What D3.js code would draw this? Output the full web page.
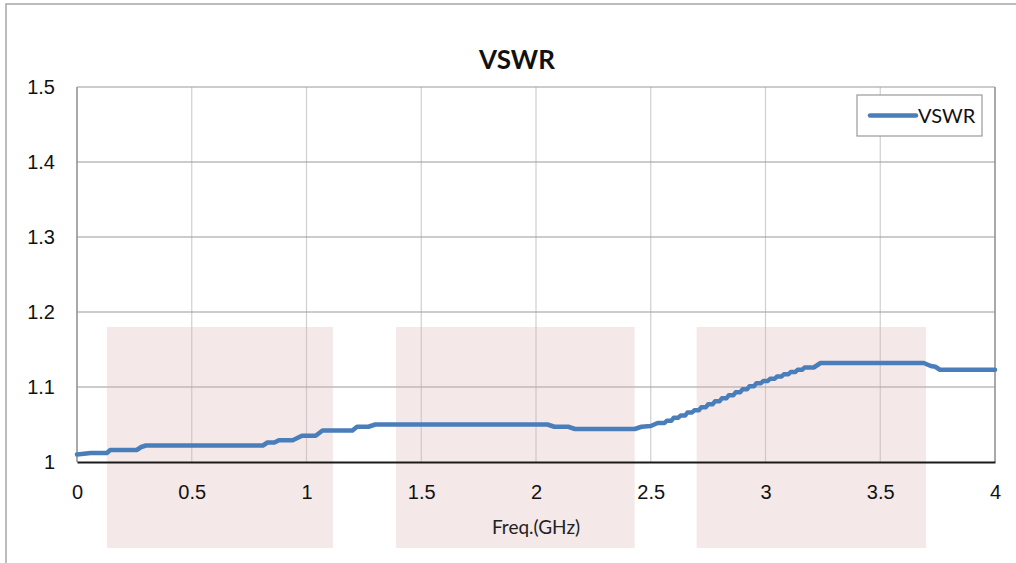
<!DOCTYPE html>
<html>
<head>
<meta charset="utf-8">
<script src="https://cdn.jsdelivr.net/npm/d3@7"></script>
<style>
  html, body { margin: 0; padding: 0; background: #fff; }
  svg { display: block; font-family: Lato, "Open Sans", "Liberation Sans", sans-serif; }
</style>
</head>
<body>
<svg id="chart" width="1016" height="563"></svg>
<script>
// ---- data ----
const chartTitle = "VSWR";
const seriesName = "VSWR";
const xAxisTitle = "Freq.(GHz)";
const xTicks = [0, 0.5, 1, 1.5, 2, 2.5, 3, 3.5, 4];
const yTicks = [1, 1.1, 1.2, 1.3, 1.4, 1.5];
const freq = [0.00, 0.03, 0.06, 0.13, 0.145, 0.26, 0.28, 0.30, 0.81, 0.83, 0.86, 0.88, 0.94, 0.98, 1.04, 1.07, 1.20, 1.22, 1.27, 1.30,
  2.05, 2.08, 2.14, 2.17, 2.43, 2.46, 2.50, 2.53, 2.56, 2.57, 2.59, 2.60, 2.62, 2.63, 2.65, 2.66, 2.68, 2.69, 2.71, 2.72, 2.74,
  2.75, 2.77, 2.78, 2.80, 2.81, 2.83, 2.84, 2.86, 2.87, 2.89, 2.90, 2.92, 2.93, 2.95, 2.96, 2.98, 2.99, 3.01, 3.02, 3.04,
  3.05, 3.07, 3.08, 3.10, 3.11, 3.13, 3.14, 3.16, 3.17, 3.21, 3.24, 3.69, 3.72, 3.74, 3.76, 4.00];
const vswr = [1.010, 1.011, 1.012, 1.012, 1.016, 1.016, 1.020, 1.022, 1.022, 1.026, 1.026, 1.029, 1.029, 1.035, 1.035, 1.042, 1.042, 1.047, 1.047, 1.050,
  1.050, 1.047, 1.047, 1.044, 1.044, 1.047, 1.048, 1.052, 1.052, 1.055, 1.055, 1.059, 1.059, 1.062, 1.062, 1.066, 1.066, 1.069, 1.069, 1.073, 1.073,
  1.077, 1.077, 1.081, 1.081, 1.085, 1.085, 1.089, 1.089, 1.093, 1.093, 1.097, 1.097, 1.101, 1.101, 1.105, 1.105, 1.108, 1.108, 1.111, 1.111,
  1.114, 1.114, 1.117, 1.117, 1.120, 1.120, 1.123, 1.123, 1.126, 1.126, 1.132, 1.132, 1.128, 1.127, 1.123, 1.123];
// shaded frequency bands [start, end] in GHz
const bandStart = [0.13, 1.39, 2.70];
const bandEnd = [1.115, 2.43, 3.70];

(function () {
// ---- layout ----
const svg = d3.select("#chart");
const pL = 77, pR = 995, pT = 87, pB = 462;
const x = d3.scaleLinear().domain([0, 4]).range([pL, pR]);
const y = d3.scaleLinear().domain([1, 1.5]).range([pB, pT]);

// outer frame
svg.append("rect").attr("x", 6).attr("y", 4).attr("width", 1100).attr("height", 700)
  .attr("fill", "none").attr("stroke", "#a6a6a6").attr("stroke-width", 1.5);

// title
svg.append("text").attr("x", 517).attr("y", 69).attr("text-anchor", "middle")
  .attr("font-size", 26).attr("font-weight", "bold").attr("fill", "#111").text(chartTitle);

// vertical grid
svg.append("g").selectAll("line").data(xTicks.filter(d => d > 0 && d < 4)).join("line")
  .attr("x1", d => x(d)).attr("x2", d => x(d)).attr("y1", pT).attr("y2", pB)
  .attr("stroke", "#cfcfcf").attr("stroke-width", 1.2);
// horizontal grid
svg.append("g").selectAll("line").data(yTicks.filter(d => d > 1)).join("line")
  .attr("x1", pL).attr("x2", pR).attr("y1", d => y(d)).attr("y2", d => y(d))
  .attr("stroke", "#9a9a9a").attr("stroke-width", 1.2);
// plot border (left/right)
svg.append("line").attr("x1", pL).attr("x2", pL).attr("y1", pT).attr("y2", pB).attr("stroke", "#8c8c8c").attr("stroke-width", 1.5);
svg.append("line").attr("x1", pR).attr("x2", pR).attr("y1", pT).attr("y2", pB).attr("stroke", "#8c8c8c").attr("stroke-width", 1.5);

// shaded bands
svg.append("g").selectAll("rect").data(bandStart.map((s, i) => [s, bandEnd[i]])).join("rect")
  .attr("x", d => x(d[0])).attr("width", d => x(d[1]) - x(d[0]))
  .attr("y", y(1.18)).attr("height", 548 - y(1.18))
  .attr("fill", "rgb(220,178,178)").attr("opacity", 0.3);

// x axis
const xAxis = d3.axisBottom(x).tickValues(xTicks).tickSize(0).tickPadding(23).tickFormat(d3.format("~g"));
const gx = svg.append("g").attr("transform", `translate(0,${pB})`).call(xAxis);
gx.select(".domain").attr("stroke", "#1a1a1a").attr("stroke-width", 2);
gx.selectAll("text").attr("font-size", 20).attr("fill", "#111").attr("font-family", "inherit");

// y axis
const yAxis = d3.axisLeft(y).tickValues(yTicks).tickSize(0).tickPadding(22).tickFormat(d3.format("~g"));
const gy = svg.append("g").attr("transform", `translate(${pL},0)`).call(yAxis);
gy.select(".domain").remove();
gy.selectAll("text").attr("font-size", 20).attr("fill", "#111").attr("font-family", "inherit");

// axis title
svg.append("text").attr("x", 536).attr("y", 534).attr("text-anchor", "middle")
  .attr("font-size", 19).attr("fill", "#222").text(xAxisTitle);

// series
const line = d3.line().x((d, i) => x(freq[i])).y(d => y(d));
svg.append("path").datum(vswr).attr("d", line)
  .attr("fill", "none").attr("stroke", "#4a7ebb").attr("stroke-width", 4.5)
  .attr("stroke-linejoin", "round").attr("stroke-linecap", "round");

// legend
const lg = svg.append("g");
lg.append("rect").attr("x", 857).attr("y", 95).attr("width", 125).attr("height", 41)
  .attr("fill", "#fff").attr("stroke", "#9a9a9a").attr("stroke-width", 1.2);
lg.append("line").attr("x1", 870).attr("x2", 916).attr("y1", 115.5).attr("y2", 115.5)
  .attr("stroke", "#4a7ebb").attr("stroke-width", 4.5).attr("stroke-linecap", "round");
lg.append("text").attr("x", 918).attr("y", 122.5).attr("font-size", 20).attr("fill", "#111").text(seriesName);
})();
</script>
</body>
</html>
